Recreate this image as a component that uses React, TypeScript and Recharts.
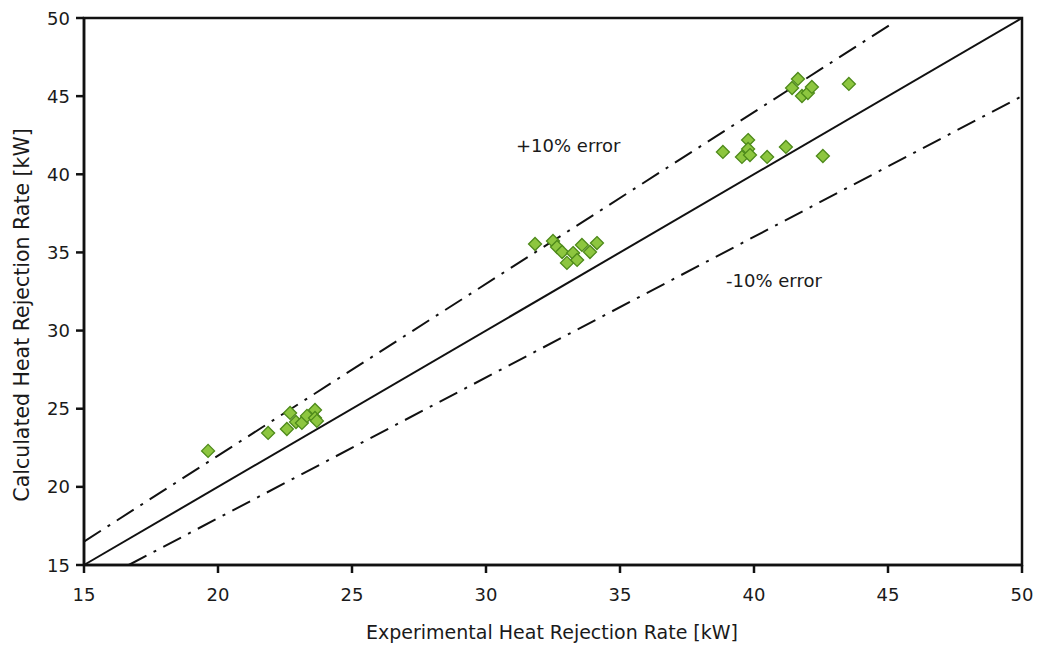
import { ComposedChart, Scatter, XAxis, YAxis, ReferenceLine, ReferenceArea } from 'recharts';

const xTicks = [15, 20, 25, 30, 35, 40, 45, 50];
const yTicks = [15, 20, 25, 30, 35, 40, 45, 50];

// experimental vs calculated heat rejection rate (kW)
const experimental = [
  19.63, 21.87, 22.57, 22.69, 22.91, 23.13, 23.32, 23.62, 23.62, 23.69,
  31.83, 32.5, 32.65, 32.84, 33.02, 33.25, 33.4, 33.58, 33.88, 34.14,
  38.84, 39.55, 39.78, 39.78, 39.85, 40.49, 41.19, 42.57, 41.42, 41.64, 41.79, 42.01, 42.16, 43.54,
];
const calculated = [
  22.3, 23.45, 23.7, 24.73, 24.15, 24.09, 24.54, 24.92, 24.41, 24.22,
  35.54, 35.73, 35.35, 35.03, 34.33, 34.96, 34.52, 35.48, 35.03, 35.6,
  41.43, 41.11, 42.19, 41.62, 41.23, 41.11, 41.75, 41.17, 45.52, 46.1, 45.01, 45.2, 45.59, 45.78,
];

const perfectLine = [{ x: 15, y: 15 }, { x: 50, y: 50 }];
const plusTenLine = [{ x: 15, y: 16.5 }, { x: 45.2, y: 49.7 }];
const minusTenLine = [{ x: 16.67, y: 15 }, { x: 50, y: 45 }];

const points = experimental.map((x, i) => ({ x, y: calculated[i] }));

const FONT = '"DejaVu Sans", Verdana, sans-serif';

const Diamond = (props: any) => {
  const { cx, cy } = props;
  const r = 6.5;
  return (
    <polygon
      points={`${cx},${cy - r} ${cx + r},${cy} ${cx},${cy + r} ${cx - r},${cy}`}
      fill="#8dc63f"
      stroke="#4e8a1a"
      strokeWidth={1.3}
    />
  );
};

const XTick = (props: any) => {
  const { x, y, payload } = props;
  return (
    <text x={x} y={y + 26} textAnchor="middle" fontSize={18} fontFamily={FONT} fill="#1a1a1a">
      {payload.value}
    </text>
  );
};

const YTick = (props: any) => {
  const { x, y, payload } = props;
  return (
    <text x={x - 4} y={y + 6.5} textAnchor="end" fontSize={18} fontFamily={FONT} fill="#1a1a1a">
      {payload.value}
    </text>
  );
};

export default function App() {
  return (
    <div style={{ position: 'absolute', left: 0, top: 0, width: 1037, height: 650, background: '#fff', fontFamily: FONT, color: '#1a1a1a' }}>
      <ComposedChart width={1037} height={650} margin={{ top: 18, right: 15, bottom: 0, left: 0 }}>
        <XAxis
          type="number"
          dataKey="x"
          domain={[15, 50]}
          ticks={xTicks}
          allowDataOverflow
          height={85}
          stroke="#111"
          strokeWidth={2.5}
          tickSize={8}
          tick={<XTick />}
        />
        <YAxis
          type="number"
          dataKey="y"
          domain={[15, 50]}
          ticks={yTicks}
          allowDataOverflow
          width={84}
          stroke="#111"
          strokeWidth={2.5}
          tickSize={8}
          tick={<YTick />}
        />
        <ReferenceArea x1={15} x2={50} y1={15} y2={50} fill="none" stroke="#111" strokeWidth={2.5} strokeOpacity={1} />
        <ReferenceLine segment={perfectLine} stroke="#111" strokeWidth={2} />
        <ReferenceLine segment={plusTenLine} stroke="#111" strokeWidth={2} strokeDasharray="20 8 3 8" />
        <ReferenceLine segment={minusTenLine} stroke="#111" strokeWidth={2} strokeDasharray="20 8 3 8" />
        <Scatter data={points} shape={Diamond} isAnimationActive={false} />
      </ComposedChart>
      <div style={{ position: 'absolute', left: 552, top: 632, transform: 'translate(-50%, -50%)', fontSize: 19, whiteSpace: 'nowrap' }}>
        Experimental Heat Rejection Rate [kW]
      </div>
      <div style={{ position: 'absolute', left: 22, top: 315, transform: 'translate(-50%, -50%) rotate(-90deg)', fontSize: 20.5, whiteSpace: 'nowrap' }}>
        Calculated Heat Rejection Rate [kW]
      </div>
      <div style={{ position: 'absolute', left: 516, top: 135, fontSize: 18 }}>+10% error</div>
      <div style={{ position: 'absolute', left: 726, top: 270, fontSize: 18 }}>-10% error</div>
    </div>
  );
}
